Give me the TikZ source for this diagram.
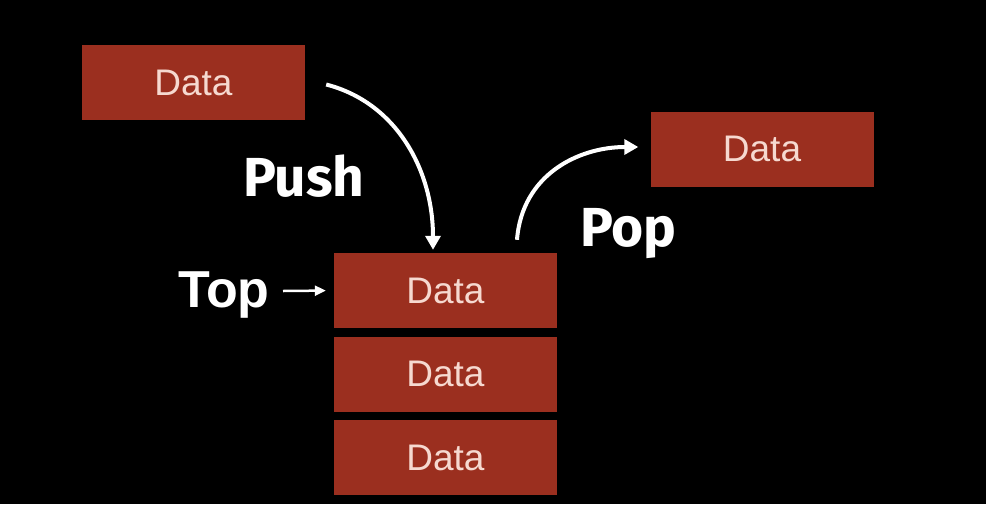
\documentclass[tikz,border=0pt]{standalone}
\usepackage{fontspec}
\setmainfont{Liberation Sans}
\newfontfamily\labfont{Fira Sans}
\usetikzlibrary{arrows.meta,calc}
\definecolor{boxred}{HTML}{9B2F1F}
\definecolor{datatext}{HTML}{F6D9D0}
\begin{document}
\begin{tikzpicture}[x=1pt,y=-1pt,
  databox/.style={fill=boxred, draw=none, minimum width=223pt, minimum height=75pt, inner sep=0pt, text=datatext, font=\fontsize{37}{37}\selectfont},
  lab/.style={text=white, font=\labfont\bfseries\fontsize{55}{55}\selectfont, inner sep=0pt, anchor=base west},
  toplab/.style={text=white, font=\bfseries\fontsize{52}{52}\selectfont, inner sep=0pt, anchor=base west},
  bigarrow/.style={draw=white, line width=4pt, -{Triangle[width=15pt,length=14pt]}},
  smallarrow/.style={draw=white, line width=2.5pt, -{Triangle[width=10pt,length=11pt]}, shorten >=8pt},
]
\fill[black] (0,0) rectangle (986,504);
\node[databox] (src) at (193.5,82.5) {Data};
\node[databox] (dst) at (762,149) {Data};
\node[databox] (s1) at (445.5,290.5) {Data};
\node[databox] (s2) at (445.5,374) {Data};
\node[databox] (s3) at (445.5,457.5) {Data};
\node[lab] (push) at (243,196) {Push};
\node[lab] (pop) at (580,246) {Pop};
\node[toplab] (top) at (178,307) {Top};
\coordinate (pushA) at ($(src.east)+(21,2)$);
\coordinate (pushB) at ($(s1.north)+(-12.5,-3)$);
\coordinate (popA) at ($(s1.north)+(71.5,-13)$);
\coordinate (popB) at ($(dst.west)+(-12,-2)$);
\coordinate (topA) at (283,291);
\draw[bigarrow] (pushA) .. controls +(70,18) and +(0,-80) .. (pushB);
\draw[bigarrow] (popA) .. controls +(5,-65) and +(-60,0) .. (popB);
\draw[smallarrow] (topA) -- (s1.west);
\end{tikzpicture}
\end{document}
